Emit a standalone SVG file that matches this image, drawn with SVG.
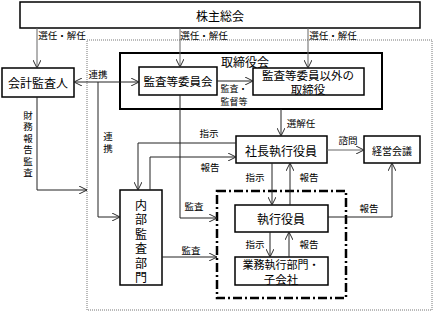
<svg xmlns="http://www.w3.org/2000/svg" width="440" height="314" viewBox="0 0 440 314">
<style>
text{font-family:"Noto Sans CJK JP","Noto Sans",sans-serif;fill:#000;text-anchor:middle;dominant-baseline:central}
.box{fill:#fff;stroke:#000;stroke-width:1.5}
.lbl{font-size:9.5px}
.v{writing-mode:vertical-rl}
.c{fill:none;stroke:#222;stroke-width:1}
.g{fill:none;stroke:#666;stroke-width:1}
</style>
<defs>
<marker id="a" viewBox="0 0 10 10" refX="10" refY="5" markerWidth="8" markerHeight="8" markerUnits="userSpaceOnUse" orient="auto-start-reverse">
<path d="M0,0 L10,5 L0,10" fill="none" stroke="#222" stroke-width="1.2"/>
</marker>
</defs>
<rect x="87" y="40" width="345" height="270" fill="none" stroke="#777" stroke-width="1" stroke-dasharray="1,1"/>
<g id="shareholders"><rect class="box" x="20" y="2" width="400" height="26"/><text x="220" y="15" font-size="12">株主総会</text></g>
<g id="board"><rect x="120" y="53" width="262" height="56" fill="none" stroke="#000" stroke-width="2"/><text x="245" y="61" font-size="12">取締役会</text></g>
<g id="auditor"><rect class="box" x="2" y="68" width="72" height="29"/><text x="38" y="82" font-size="12">会計監査人</text></g>
<g id="audit-committee"><rect class="box" x="139" y="67" width="78" height="28"/><text x="178" y="81" font-size="11.5">監査等委員会</text></g>
<g id="directors"><rect class="box" x="253" y="68" width="111" height="27"/><text font-size="11.5"><tspan x="308" y="75">監査等委員以外の</tspan><tspan x="308" y="89">取締役</tspan></text></g>
<g id="president"><rect class="box" x="236" y="136" width="91" height="27"/><text x="281" y="150" font-size="12">社長執行役員</text></g>
<g id="mgmt"><rect class="box" x="364" y="136" width="56" height="27"/><text x="392" y="150" font-size="10">経営会議</text></g>
<g id="internal-audit"><rect class="box" x="120" y="190" width="42" height="95"/>
<text class="v" x="141" y="242.5" font-size="12" letter-spacing="2.5">内部監査部門</text></g>
<g id="exec-group"><rect x="217" y="191" width="129" height="107" fill="none" stroke="#000" stroke-width="2.5" stroke-dasharray="9,3,2,3"/></g>
<g id="officers"><rect class="box" x="235" y="205" width="93" height="27"/><text x="281" y="218.5" font-size="12">執行役員</text></g>
<g id="business"><rect class="box" x="235" y="257" width="93" height="28"/><text font-size="11"><tspan x="281" y="264">業務執行部門・</tspan><tspan x="281" y="278.5" font-size="11.5">子会社</tspan></text></g>
<g id="connectors">
<path class="g" d="M37,28 V68" marker-end="url(#a)"/>
<path class="g" d="M180,28 V67" marker-end="url(#a)"/>
<path class="g" d="M308,28 V68" marker-end="url(#a)"/>
<path class="c" d="M74,82 H139" marker-start="url(#a)" marker-end="url(#a)"/>
<path class="c" d="M217,81 H253" marker-end="url(#a)"/>
<path class="c" d="M37,97 V190 H87" marker-end="url(#a)"/>
<path class="c" d="M98,82 V217 H120" marker-end="url(#a)"/>
<path class="c" d="M180,95 V218 H217" marker-end="url(#a)"/>
<path class="c" d="M162,257 H217" marker-end="url(#a)"/>
<path class="c" d="M281,109 V136" marker-end="url(#a)"/>
<path class="c" d="M236,143 H138 V190" marker-end="url(#a)"/>
<path class="c" d="M150,190 V157 H236" marker-end="url(#a)"/>
<path class="g" d="M327,150 H364" marker-end="url(#a)"/>
<path class="c" d="M272,163 V205" marker-end="url(#a)"/>
<path class="c" d="M290,205 V163" marker-end="url(#a)"/>
<path class="c" d="M270,232 V257" marker-end="url(#a)"/>
<path class="c" d="M289,257 V232" marker-end="url(#a)"/>
<path class="c" d="M328,217 H392 V163" marker-end="url(#a)"/>
</g>
<g id="labels">
<text class="lbl" x="62" y="35">選任・解任</text>
<text class="lbl" x="204" y="35">選任・解任</text>
<text class="lbl" x="333" y="35">選任・解任</text>
<text class="lbl" x="98" y="74">連携</text>
<text font-size="9"><tspan x="234" y="87.5">監査・</tspan><tspan x="234" y="100.5">監督等</tspan></text>
<text class="lbl v" x="28" y="145" letter-spacing="2">財務報告監査</text>
<text class="lbl v" x="108" y="144" letter-spacing="2.5">連携</text>
<text class="lbl" x="301" y="123">選解任</text>
<text class="lbl" x="209" y="133">指示</text>
<text class="lbl" x="210" y="167">報告</text>
<text class="lbl" x="348" y="140">諮問</text>
<text class="lbl" x="255" y="177">指示</text>
<text class="lbl" x="309" y="177">報告</text>
<text class="lbl" x="194" y="206">監査</text>
<text class="lbl" x="191" y="250">監査</text>
<text class="lbl" x="369" y="208">報告</text>
<text class="lbl" x="255" y="244">指示</text>
<text class="lbl" x="309" y="244">報告</text>
</g>
</svg>
